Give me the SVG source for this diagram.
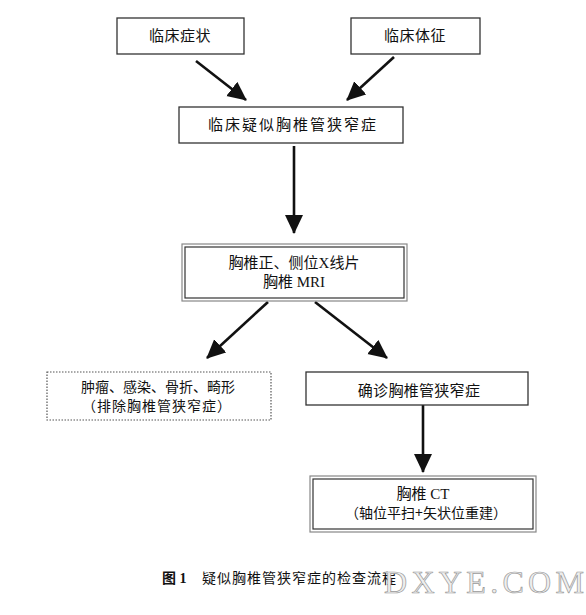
<svg xmlns="http://www.w3.org/2000/svg" width="586" height="615" viewBox="0 0 586 615">
<style>
.box{fill:#fff;stroke:#333;stroke-width:1.3}
.dbl-o{fill:none;stroke:#888;stroke-width:1.2}
.dbl-i{fill:none;stroke:#333;stroke-width:1.2}
.dot{fill:#fff;stroke:#555;stroke-width:1.2;stroke-dasharray:1.5 1.5}
.t{font-family:"Noto Sans CJK SC","Noto Sans CJK JP",sans-serif;font-size:15px;fill:#111;text-anchor:middle}
.s{font-size:14px}
.m{font-family:"Liberation Serif","Noto Sans CJK SC",serif}
.ln{stroke:#111;stroke-width:2.6;fill:none;marker-end:url(#ah)}
.cap{font-family:"Noto Sans CJK SC",sans-serif;font-size:14px;fill:#111}
</style>
<defs>
<marker id="ah" markerUnits="userSpaceOnUse" markerWidth="22" markerHeight="20" refX="18" refY="9" orient="auto">
<path d="M0,0 L19,9 L0,18 z" fill="#111"/>
</marker>
</defs>
<rect width="586" height="615" fill="#fff"/>
<g id="connectors">
<line class="ln" x1="196" y1="61" x2="246" y2="100"/>
<line class="ln" x1="394" y1="57" x2="347" y2="100"/>
<line class="ln" x1="294" y1="146" x2="294" y2="233"/>
<line class="ln" x1="268" y1="302" x2="207" y2="358"/>
<line class="ln" x1="315" y1="302" x2="387" y2="358"/>
<line class="ln" x1="423" y1="405" x2="423" y2="472"/>
</g>
<g id="n1">
<rect class="box" x="117" y="18" width="127" height="36"/>
<text class="t" x="180" y="41" letter-spacing="0.5">临床症状</text>
</g>
<g id="n2">
<rect class="box" x="351" y="18" width="129" height="36"/>
<text class="t" x="415" y="41" letter-spacing="0.5">临床体征</text>
</g>
<g id="n3">
<rect class="box" x="179" y="107" width="224" height="36"/>
<text class="t" x="293" y="130" letter-spacing="2">临床疑似胸椎管狭窄症</text>
</g>
<g id="n4">
<rect class="dbl-o" x="182" y="244" width="225" height="57"/>
<rect class="dbl-i" x="185" y="247" width="219" height="51"/>
<text class="t" x="294" y="268">胸椎正、侧位<tspan class="m">X</tspan>线片</text>
<text class="t" x="294" y="287">胸椎<tspan class="m"> MRI</tspan></text>
</g>
<g id="n5">
<rect class="dot" x="47" y="372" width="224" height="48"/>
<text class="t s" x="158" y="392">肿瘤、感染、骨折、畸形</text>
<text class="t s" x="157" y="411" letter-spacing="1">（排除胸椎管狭窄症）</text>
</g>
<g id="n6">
<rect class="box" x="306" y="372" width="222" height="33"/>
<text class="t" x="419" y="396" letter-spacing="0.3">确诊胸椎管狭窄症</text>
</g>
<g id="n7">
<rect class="dbl-o" x="310" y="476" width="226" height="56"/>
<rect class="dbl-i" x="313" y="479" width="220" height="50"/>
<text class="t" x="423" y="499">胸椎<tspan class="m"> CT</tspan></text>
<text class="t s" x="426" y="518">（轴位平扫+矢状位重建）</text>
</g>
<g id="caption">
<text class="cap" x="162" y="583" font-weight="bold">图<tspan class="m" font-weight="bold"> 1</tspan></text>
<text class="cap" x="202" y="583" letter-spacing="1">疑似胸椎管狭窄症的检查流程</text>
<text x="384" y="593" font-family="Liberation Serif,serif" font-size="32" fill="#eee" stroke="#999" stroke-width="0.7" textLength="200" lengthAdjust="spacing">DXYE.COM</text>
</g>
</svg>
